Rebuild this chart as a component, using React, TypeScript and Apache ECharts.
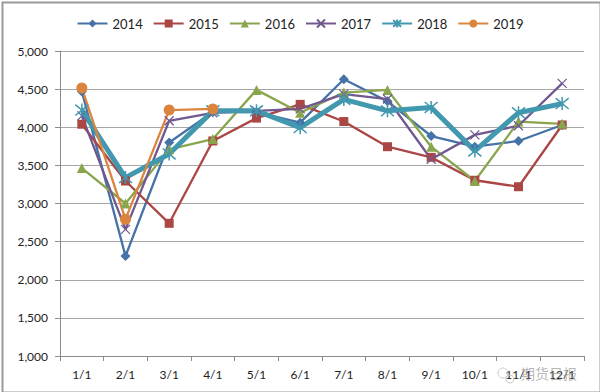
import React, { useEffect, useRef } from "react";
import * as echarts from "echarts";

const categories = ["1/1", "2/1", "3/1", "4/1", "5/1", "6/1", "7/1", "8/1", "9/1", "10/1", "11/1", "12/1"];
const years = ["2014", "2015", "2016", "2017", "2018", "2019"];
const s2014 = [4470, 2310, 3800, 4200, 4200, 4060, 4630, 4340, 3885, 3745, 3820, 4030];
const s2015 = [4040, 3295, 2740, 3820, 4120, 4300, 4075, 3745, 3605, 3305, 3220, 4030];
const s2016 = [3465, 3000, 3710, 3845, 4490, 4190, 4455, 4490, 3745, 3295, 4075, 4045];
const s2017 = [4150, 2660, 4085, 4190, 4215, 4240, 4435, 4370, 3580, 3900, 4020, 4575];
const s2018 = [4225, 3340, 3650, 4215, 4215, 3995, 4365, 4215, 4260, 3690, 4190, 4310];
const s2019 = [4515, 2795, 4225, 4240];
const colors = ["#4572A7", "#AA4643", "#89A54E", "#71588F", "#4198AF", "#DB843D"];
const yTicks = { min: 1000, max: 5000, interval: 500 };

export default function App() {
  const ref = useRef<HTMLDivElement>(null);
  useEffect(() => {
    const chart = echarts.init(ref.current!, null, { renderer: "svg" });
    const dataSets = [s2014, s2015, s2016, s2017, s2018, s2019];
    const symbols = [
      "diamond",
      "rect",
      "triangle",
      "path://M0,0L10,10M10,0L0,10",
      "path://M0,1L10,11M10,1L0,11M5,0L5,12",
      "circle",
    ];
    const sizes = [10, 9, 10, 9, 13, 11];
    const widths = [2.3, 2.3, 2.3, 2.3, 5, 2.3];
    const series = years.map((y, i) => {
      const isPath = i === 3 || i === 4;
      return {
        name: y,
        type: "line",
        data: dataSets[i],
        symbol: symbols[i],
        symbolSize: sizes[i],
        showAllSymbol: true,
        lineStyle: { color: colors[i], width: widths[i] },
        itemStyle: isPath
          ? { color: colors[i], borderColor: colors[i], borderWidth: i === 4 ? 1.5 : 1.2 }
          : { color: colors[i], borderWidth: 0 },
        emphasis: { disabled: true },
      };
    });
    chart.setOption({
      animation: false,
      backgroundColor: "#ffffff",
      color: colors,
      textStyle: { fontFamily: "Lato, 'Liberation Sans', sans-serif" },
      legend: {
        top: 12,
        left: "center",
        itemWidth: 30,
        itemHeight: 10,
        itemGap: 10,
        textStyle: { fontSize: 13, color: "#222" },
        data: years,
      },
      grid: { left: 60, right: 16, top: 51, bottom: 36 },
      xAxis: {
        type: "category",
        data: categories,
        boundaryGap: true,
        axisLine: { lineStyle: { color: "#8c8c8c", width: 1 } },
        axisTick: { show: true, length: 5, lineStyle: { color: "#8c8c8c" } },
        axisLabel: { color: "#222", fontSize: 12, margin: 12, interval: 0 },
        splitLine: { show: false },
      },
      yAxis: {
        type: "value",
        min: yTicks.min,
        max: yTicks.max,
        interval: yTicks.interval,
        axisLine: { show: true, lineStyle: { color: "#8c8c8c", width: 1 } },
        axisTick: { show: true, length: 5, lineStyle: { color: "#8c8c8c" } },
        axisLabel: {
          color: "#222",
          fontSize: 12,
          margin: 12,
          formatter: (v: number) => v.toLocaleString("en-US"),
        },
        splitLine: { lineStyle: { color: "#a6a6a6", width: 1 } },
      },
      graphic: [
        {
          type: "rect",
          left: 0,
          top: 0,
          shape: { x: 1, y: 1, width: 598, height: 390 },
          style: { fill: "none", stroke: "#9a9a9a", lineWidth: 2 },
          silent: true,
        },
        {
          type: "circle",
          shape: { cx: 503, cy: 373, r: 5 },
          style: { fill: "none", stroke: "#c8c8c8", lineWidth: 1 },
          silent: true,
          z: 100,
        },
        {
          type: "circle",
          shape: { cx: 510, cy: 379, r: 4 },
          style: { fill: "none", stroke: "#c8c8c8", lineWidth: 1 },
          silent: true,
          z: 100,
        },
        {
          type: "text",
          left: 521,
          top: 366,
          style: {
            text: "期货日报",
            fill: "rgba(150,150,150,0.7)",
            fontSize: 14,
            fontFamily: "'Noto Sans CJK SC', sans-serif",
          },
          silent: true,
          z: 100,
        },
      ],
      series,
    });
    return () => chart.dispose();
  }, []);
  return (
    <div
      ref={ref}
      style={{ position: "absolute", left: 0, top: 0, width: 600, height: 392 }}
    />
  );
}
